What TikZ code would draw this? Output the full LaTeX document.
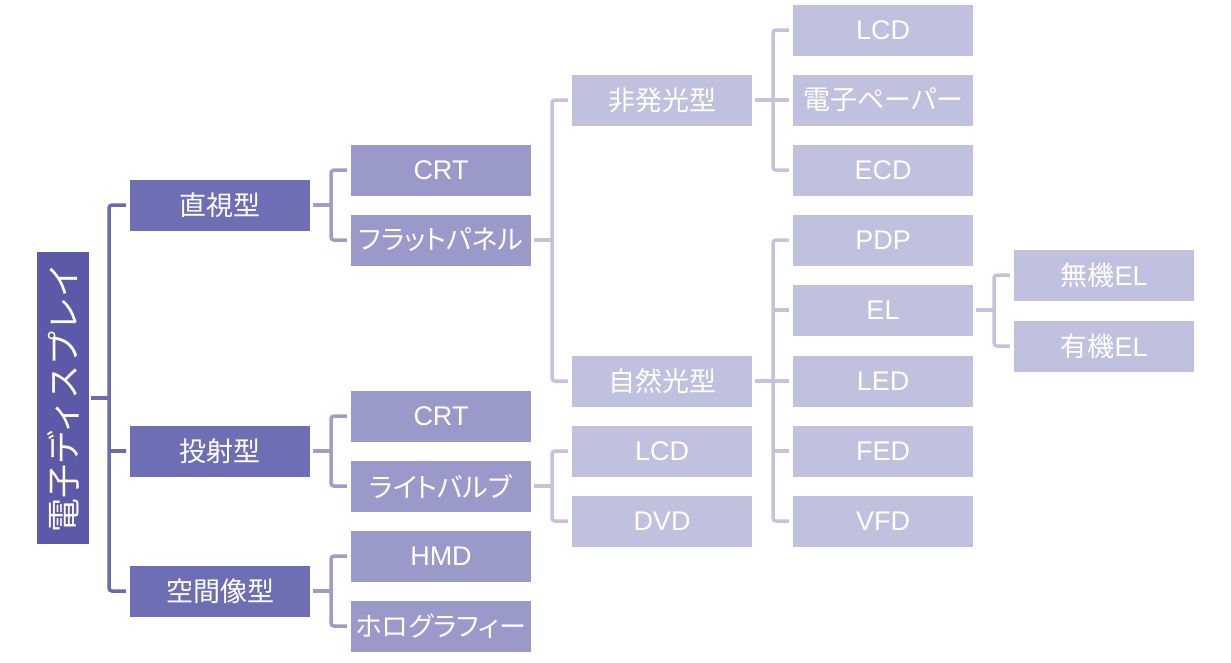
\documentclass[tikz,border=0pt]{standalone}
\usepackage{fontspec}
\setmainfont{Liberation Sans}
\newfontfamily\jp[RawFeature=+palt]{Noto Sans CJK JP}
\newfontfamily\jpr{Noto Sans CJK JP}
\definecolor{c0}{HTML}{5B59A8}
\definecolor{c1}{HTML}{6E6EB4}
\definecolor{c2}{HTML}{9999CA}
\definecolor{c3}{HTML}{C0C0DF}
\definecolor{l0}{HTML}{6A6AAE}
\definecolor{l1}{HTML}{9D9DC9}
\definecolor{l2}{HTML}{C3C3DF}
\tikzset{
  box/.style={inner sep=0pt, minimum width=180pt, minimum height=51pt, text=white, font=\fontsize{27}{29}\selectfont},
  b1/.style={box, fill=c1},
  b2/.style={box, fill=c2},
  b3/.style={box, fill=c3},
  conn/.style={line width=3.5pt, rounded corners=3pt},
}
\begin{document}
\begin{tikzpicture}[x=1pt,y=-1pt]
\useasboundingbox (0,0) rectangle (1231,662);
% root
\node[fill=c0, inner sep=0pt, minimum width=52pt, minimum height=292pt] (root) at (63,398) {};
\node[rotate=90, text=white, font=\jpr\fontsize{34}{36}\selectfont] (roott) at (root.center) {電子ディスプレイ};
% level 1
\node[b1] (a1) at (220,205) {\jp 直視型};
\node[b1] (a2) at (220,451) {\jp 投射型};
\node[b1] (a3) at (220,591) {\jp 空間像型};
% level 2
\node[b2] (b1) at (441,170) {CRT};
\node[b2] (b2) at (441,240) {\jp フラットパネル};
\node[b2] (b3) at (441,416) {CRT};
\node[b2] (b4) at (441,486) {\jp ライトバルブ};
\node[b2] (b5) at (441,556) {HMD};
\node[b2] (b6) at (441,626) {\jp ホログラフィー};
% level 3
\node[b3] (c1) at (662,100) {\jp 非発光型};
\node[b3] (c2) at (662,381) {\jp 自然光型};
\node[b3] (c3) at (662,451) {LCD};
\node[b3] (c4) at (662,521) {DVD};
% level 4
\node[b3] (d1) at (883,30) {LCD};
\node[b3] (d2) at (883,100) {\jp 電子ペーパー};
\node[b3] (d3) at (883,170) {ECD};
\node[b3] (d4) at (883,240) {PDP};
\node[b3] (d5) at (883,310) {EL};
\node[b3] (d6) at (883,381) {LED};
\node[b3] (d7) at (883,451) {FED};
\node[b3] (d8) at (883,521) {VFD};
% level 5
\node[b3] (e1) at (1104,275) {{\jp 無機}EL};
\node[b3] (e2) at (1104,346) {{\jp 有機}EL};
% midpoints
\coordinate (m0) at (109,398);
\coordinate (m1) at (331,205);
\coordinate (m2) at (331,451);
\coordinate (m3) at (331,591);
\coordinate (m4) at (552,240);
\coordinate (m5) at (552,486);
\coordinate (m6) at (773,100);
\coordinate (m7) at (773,381);
\coordinate (m8) at (994,310);
% root connectors
\draw[conn, draw=l0] ([xshift=-4pt]a1.west) -- (a1.west -| m0) -- (a3.west -| m0) -- ([xshift=-4pt]a3.west);
\draw[conn, draw=l0] ([xshift=2pt]root.east) -- (m0);
\draw[conn, draw=l0] (a2.west -| m0) -- ([xshift=-4pt]a2.west);
% level1 -> level2
\draw[conn, draw=l1] ([xshift=-4pt]b1.west) -- (b1.west -| m1) -- (b2.west -| m1) -- ([xshift=-4pt]b2.west);
\draw[conn, draw=l1] ([xshift=3pt]a1.east) -- (m1);
\draw[conn, draw=l1] ([xshift=-4pt]b3.west) -- (b3.west -| m2) -- (b4.west -| m2) -- ([xshift=-4pt]b4.west);
\draw[conn, draw=l1] ([xshift=3pt]a2.east) -- (m2);
\draw[conn, draw=l1] ([xshift=-4pt]b5.west) -- (b5.west -| m3) -- (b6.west -| m3) -- ([xshift=-4pt]b6.west);
\draw[conn, draw=l1] ([xshift=3pt]a3.east) -- (m3);
% level2 -> level3
\draw[conn, draw=l2] ([xshift=-4pt]c1.west) -- (c1.west -| m4) -- (c2.west -| m4) -- ([xshift=-4pt]c2.west);
\draw[conn, draw=l2] ([xshift=3pt]b2.east) -- (m4);
\draw[conn, draw=l2] ([xshift=-4pt]c3.west) -- (c3.west -| m5) -- (c4.west -| m5) -- ([xshift=-4pt]c4.west);
\draw[conn, draw=l2] ([xshift=3pt]b4.east) -- (m5);
% level3 -> level4
\draw[conn, draw=l2] ([xshift=-4pt]d1.west) -- (d1.west -| m6) -- (d3.west -| m6) -- ([xshift=-4pt]d3.west);
\draw[conn, draw=l2] ([xshift=3pt]c1.east) -- (m6);
\draw[conn, draw=l2] (d2.west -| m6) -- ([xshift=-4pt]d2.west);
\draw[conn, draw=l2] ([xshift=-4pt]d4.west) -- (d4.west -| m7) -- (d8.west -| m7) -- ([xshift=-4pt]d8.west);
\draw[conn, draw=l2] ([xshift=3pt]c2.east) -- (m7);
\draw[conn, draw=l2] (d5.west -| m7) -- ([xshift=-4pt]d5.west);
\draw[conn, draw=l2] (d6.west -| m7) -- ([xshift=-4pt]d6.west);
\draw[conn, draw=l2] (d7.west -| m7) -- ([xshift=-4pt]d7.west);
% level4 -> level5
\draw[conn, draw=l2] ([xshift=-4pt]e1.west) -- (e1.west -| m8) -- (e2.west -| m8) -- ([xshift=-4pt]e2.west);
\draw[conn, draw=l2] ([xshift=3pt]d5.east) -- (m8);
\end{tikzpicture}
\end{document}
